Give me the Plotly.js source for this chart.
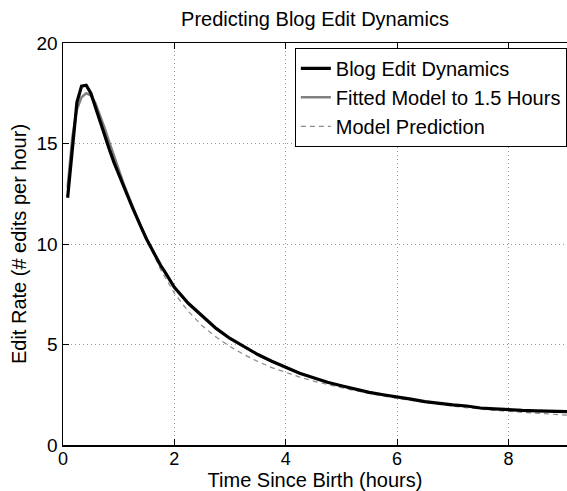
<!DOCTYPE html>
<html>
<head>
<meta charset="utf-8">
<script src="https://cdn.plot.ly/plotly-3.0.1.min.js"></script>
<style>html,body{margin:0;padding:0;background:#fff;}#chart{width:567px;height:491px;}</style>
</head>
<body>
<div id="chart"></div>
<script>
// Observed blog edit dynamics (hours since birth, edits per hour)
var obsHours = [0.083,0.167,0.25,0.333,0.417,0.5,0.583,0.667,0.75,0.833,0.917,1.0,1.083,1.167,1.25,1.333,1.417,1.5,1.583,1.667,1.75,1.833,1.917,2.0,2.25,2.5,2.75,3.0,3.25,3.5,3.75,4.0,4.25,4.5,4.75,5.0,5.25,5.5,5.75,6.0,6.25,6.5,6.75,7.0,7.25,7.5,7.75,8.0,8.25,8.5,8.75,9.0,9.25];
var obsRate  = [12.3,14.6,17.05,17.85,17.9,17.5,16.8,16.05,15.3,14.7,14.05,13.45,12.9,12.35,11.8,11.25,10.75,10.25,9.8,9.35,8.95,8.6,8.2,7.85,7.05,6.4,5.8,5.3,4.88,4.5,4.17,3.87,3.57,3.35,3.12,2.95,2.78,2.62,2.5,2.37,2.28,2.16,2.06,2.0,1.94,1.84,1.8,1.75,1.72,1.7,1.68,1.66,1.64];

// Model fitted to the first 1.5 hours
var fitHours = [0.083,0.167,0.25,0.333,0.417,0.5,0.583,0.667,0.75,0.833,0.917,1.0,1.083,1.167,1.25,1.333,1.417,1.5];
var fitRate  = [12.8,15.3,16.7,17.3,17.5,17.4,17.0,16.4,15.75,15.05,14.35,13.7,13.05,12.45,11.85,11.3,10.75,10.25];

// Model prediction over the whole period
var predHours = [0.083,0.167,0.25,0.333,0.417,0.5,0.583,0.667,0.75,0.833,0.917,1.0,1.083,1.167,1.25,1.333,1.417,1.5,1.583,1.667,1.75,1.833,1.917,2.0,2.25,2.5,2.75,3.0,3.25,3.5,3.75,4.0,4.25,4.5,4.75,5.0,5.25,5.5,5.75,6.0,6.25,6.5,6.75,7.0,7.25,7.5,7.75,8.0,8.25,8.5,8.75,9.0,9.25];
var predRate  = [12.8,15.3,16.7,17.3,17.5,17.4,17.0,16.4,15.75,15.05,14.35,13.7,13.05,12.45,11.85,11.3,10.75,10.25,9.7,9.2,8.75,8.35,7.95,7.55,6.65,5.93,5.37,4.9,4.5,4.15,3.85,3.6,3.38,3.18,3.0,2.85,2.7,2.56,2.44,2.32,2.21,2.11,2.02,1.93,1.85,1.78,1.72,1.67,1.62,1.57,1.52,1.48,1.45];

var xTicks = [0,2,4,6,8];
var yTicks = [0,5,10,15,20];

var FONT = 'Liberation Sans, Arial, Helvetica, sans-serif';

var traces = [
  {x: predHours, y: predRate, type: 'scatter', mode: 'lines', name: 'Model Prediction',
   line: {color: '#8a8a8a', width: 1.2, dash: '5px,4px'}},
  {x: fitHours, y: fitRate, type: 'scatter', mode: 'lines', name: 'Fitted Model to 1.5 Hours',
   line: {color: '#808080', width: 2.5}},
  {x: obsHours, y: obsRate, type: 'scatter', mode: 'lines', name: 'Blog Edit Dynamics',
   line: {color: '#000000', width: 3.2}}
];

var layout = {
  width: 567, height: 491,
  margin: {l: 63, r: 0, t: 43, b: 46, pad: 0},
  paper_bgcolor: '#ffffff', plot_bgcolor: '#ffffff',
  font: {family: FONT, size: 19, color: '#000'},
  title: {text: 'Predicting Blog Edit Dynamics', font: {family: FONT, size: 20, color: '#000'},
          xref: 'paper', x: 0.5, xanchor: 'center', yref: 'container', y: 0.962, yanchor: 'middle'},
  showlegend: true,
  legend: {x: 0.46, xanchor: 'left', y: 0.988, yanchor: 'top', traceorder: 'reversed',
           bgcolor: '#ffffff', bordercolor: '#000000', borderwidth: 1,
           font: {family: FONT, size: 20, color: '#000'}},
  xaxis: {range: [0, 9.053], tickvals: xTicks, ticktext: xTicks.map(String),
          showline: true, linecolor: '#000', linewidth: 1.5, mirror: 'ticks',
          ticks: 'inside', ticklen: 6, tickcolor: '#000', tickwidth: 1,
          ticklabelstandoff: -3,
          showgrid: true, gridcolor: '#9a9a9a', griddash: '1px,3px', gridwidth: 1,
          zeroline: false, automargin: false,
          tickfont: {family: FONT, size: 18, color: '#000'},
          title: {text: 'Time Since Birth (hours)', font: {family: FONT, size: 20, color: '#000'}, standoff: 3}},
  yaxis: {range: [0, 20], tickvals: yTicks, ticktext: yTicks.map(String),
          showline: true, linecolor: '#000', linewidth: 1.5, mirror: false,
          ticks: 'inside', ticklen: 6, tickcolor: '#000', tickwidth: 1,
          showgrid: true, gridcolor: '#9a9a9a', griddash: '1px,3px', gridwidth: 1,
          zeroline: false, automargin: false,
          tickfont: {family: FONT, size: 19, color: '#000'},
          title: {text: 'Edit Rate (# edits per hour)', font: {family: FONT, size: 20, color: '#000'}, standoff: 4}}
};

Plotly.newPlot('chart', traces, layout, {displayModeBar: false, staticPlot: true});
</script>
</body>
</html>
